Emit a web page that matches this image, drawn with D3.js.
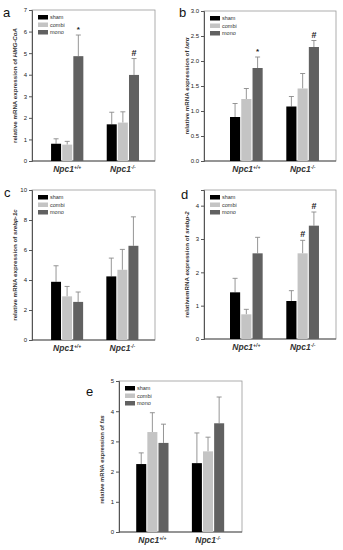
<!DOCTYPE html>
<html>
<head>
<meta charset="utf-8">
<script src="https://cdn.jsdelivr.net/npm/d3@7"></script>
<style>
  body { margin: 0; background: #fff; }
  svg { display: block; font-family: "Liberation Sans", Arial, sans-serif; }
</style>
</head>
<body>
<div id="vis-container"></div>
<script>
// ---------- data ----------
const genotypes = ["+/+", "-/-"]
const treatments = ["sham", "combi", "mono"]

// a: HMG-CoA
const hmgMean = [[0.80, 0.76, 4.86], [1.70, 1.78, 3.99]]
const hmgErr  = [[0.23, 0.15, 0.98], [0.56, 0.50, 0.76]]
const hmgMark = [["", "", "*"], ["", "", "#"]]
const hmgTicks = [0, 1, 2, 3, 4, 5, 6, 7]

// b: lxr alpha
const lxrMean = [[0.88, 1.24, 1.86], [1.09, 1.45, 2.28]]
const lxrErr  = [[0.27, 0.21, 0.22], [0.20, 0.30, 0.13]]
const lxrMark = [["", "", "*"], ["", "", "#"]]
const lxrTicks = [0, 0.5, 1.0, 1.5, 2.0, 2.5, 3.0]

// c: srebp-1c
const srebp1Mean = [[3.88, 2.91, 2.54], [4.24, 4.68, 6.28]]
const srebp1Err  = [[1.07, 0.66, 0.66], [1.22, 1.36, 1.93]]
const srebp1Mark = [["", "", ""], ["", "", ""]]
const srebp1Ticks = [0, 2, 4, 6, 8, 10]

// d: srebp-2
const srebp2Mean = [[1.40, 0.74, 2.57], [1.14, 2.57, 3.40]]
const srebp2Err  = [[0.42, 0.15, 0.48], [0.31, 0.39, 0.41]]
const srebp2Mark = [["", "", ""], ["", "#", "#"]]
const srebp2Ticks = [0, 1, 2, 3, 4]

// e: fas
const fasMean = [[2.25, 3.31, 2.95], [2.28, 2.67, 3.60]]
const fasErr  = [[0.37, 0.64, 0.62], [1.00, 0.47, 0.87]]
const fasMark = [["", "", ""], ["", "", ""]]
const fasTicks = [0, 1, 2, 3, 4, 5]

const colors = ["#000000", "#c4c4c4", "#616161"]

// ---------- panel layout ----------
const panels = [
  { letter: "a", lx: 3, ly: 17, left: 32, right: 155, top: 10, bottom: 161, yMax: 7, ticks: hmgTicks, fmt: d3.format("d"),
    mean: hmgMean, err: hmgErr, mark: hmgMark, xr: [0.155, 0.87], pre: "relative mRNA expression of ", gene: "HMG-CoA", ls: 6.2, ldy: 0 },
  { letter: "b", lx: 179, ly: 17, left: 204, right: 336, top: 11, bottom: 161, yMax: 3, ticks: lxrTicks, fmt: d3.format(".1f"),
    mean: lxrMean, err: lxrErr, mark: lxrMark, xr: [0.197, 0.871], pre: "relative mRNA expression of ", gene: "lxrα", ls: 6.2, ldy: 0 },
  { letter: "c", lx: 4, ly: 197, left: 32, right: 155, top: 190, bottom: 340, yMax: 10, ticks: srebp1Ticks, fmt: d3.format("d"),
    mean: srebp1Mean, err: srebp1Err, mark: srebp1Mark, xr: [0.155, 0.865], pre: "relative mRNA expression of ", gene: "srebp-1c", ls: 6.2, ldy: 0 },
  { letter: "d", lx: 181, ly: 199, left: 204, right: 336, top: 190, bottom: 339, yMax: 4.47, ticks: srebp2Ticks, fmt: d3.format("d"),
    mean: srebp2Mean, err: srebp2Err, mark: srebp2Mark, xr: [0.197, 0.871], pre: "relativemRNA expression of ", gene: "srebp-2", ls: 6.2, ldy: 0 },
  { letter: "e", lx: 86, ly: 396, left: 119, right: 242, top: 381, bottom: 532, yMax: 5, ticks: fasTicks, fmt: d3.format("d"),
    mean: fasMean, err: fasErr, mark: fasMark, xr: [0.14, 0.855], pre: "relative mRNA expression of ", gene: "fas", ls: 5.8, ldy: 3 }
]

const svg = d3.select("#vis-container").append("svg")
  .attr("width", 343).attr("height", 550)

panels.forEach(p => {
  const w = p.right - p.left
  const h = p.bottom - p.top
  const g = svg.append("g").attr("transform", `translate(${p.left},${p.top})`)

  const y = d3.scaleLinear().domain([0, p.yMax]).range([h, 0])
  const x0 = d3.scaleBand().domain(genotypes).range([w * p.xr[0], w * p.xr[1]]).paddingInner(0.42)
  const x1 = d3.scaleBand().domain(treatments).range([0, x0.bandwidth()]).paddingInner(0.1)

  // frame
  g.append("rect").attr("width", w).attr("height", h)
    .attr("fill", "none").attr("stroke", "#9a9a9a").attr("stroke-width", 0.8)

  // y axis
  const yAxis = d3.axisLeft(y).tickValues(p.ticks).tickFormat(p.fmt).tickSize(3).tickPadding(2)
  const ya = g.append("g").call(yAxis)
  ya.select(".domain").attr("stroke", "#555")
  ya.selectAll(".tick line").attr("stroke", "#555")
  ya.selectAll("text").attr("font-size", 6).attr("fill", "#222")

  // x axis line
  g.append("line").attr("x1", 0).attr("x2", w).attr("y1", h).attr("y2", h)
    .attr("stroke", "#555").attr("stroke-width", 1)

  // bars + error bars
  genotypes.forEach((gt, i) => {
    const gg = g.append("g").attr("transform", `translate(${x0(gt)},0)`)
    treatments.forEach((t, j) => {
      const v = p.mean[i][j]
      const top = v + p.err[i][j]
      const cx = x1(t) + x1.bandwidth() / 2
      gg.append("line").attr("x1", cx).attr("x2", cx)
        .attr("y1", y(v)).attr("y2", y(top))
        .attr("stroke", "#8a8a8a").attr("stroke-width", 0.9)
      gg.append("line").attr("x1", cx - 2.5).attr("x2", cx + 2.5)
        .attr("y1", y(top)).attr("y2", y(top))
        .attr("stroke", "#8a8a8a").attr("stroke-width", 0.9)
      gg.append("rect")
        .attr("x", x1(t)).attr("y", y(v))
        .attr("width", x1.bandwidth()).attr("height", h - y(v))
        .attr("fill", colors[j])
      if (p.mark[i][j]) {
        gg.append("text").attr("x", cx).attr("y", y(top) - 3)
          .attr("text-anchor", "middle").attr("font-size", p.mark[i][j] === "*" ? 8 : 9)
          .attr("font-weight", "bold").attr("fill", "#222")
          .text(p.mark[i][j])
      }
    })

    // genotype label
    const lab = g.append("text")
      .attr("x", x0(gt) + x0.bandwidth() / 2).attr("y", h + 11)
      .attr("text-anchor", "middle").attr("font-size", 8.5)
      .attr("font-style", "italic").attr("font-weight", "bold").attr("fill", "#333")
    lab.append("tspan").text("Npc1")
    lab.append("tspan").attr("font-size", 5).attr("dy", -3.5).text(gt)
  })

  // legend
  const lg = g.append("g").attr("transform", "translate(6,5)")
  treatments.forEach((t, j) => {
    lg.append("rect").attr("x", 0).attr("y", j * 7.5).attr("width", 10).attr("height", 4.5)
      .attr("fill", colors[j])
    lg.append("text").attr("x", 12).attr("y", j * 7.5 + 4.3)
      .attr("font-size", 5.5).attr("fill", "#333").text(t)
  })

  // y label
  const yl = g.append("text")
    .attr("transform", `translate(${-15},${h / 2 + p.ldy}) rotate(-90)`)
    .attr("text-anchor", "middle").attr("font-size", p.ls).attr("font-weight", "bold").attr("fill", "#333")
  yl.append("tspan").text(p.pre)
  yl.append("tspan").attr("font-style", "italic").text(p.gene)

  // panel letter
  svg.append("text").attr("x", p.lx).attr("y", p.ly)
    .attr("font-size", 13).attr("fill", "#111").text(p.letter)
})
</script>
</body>
</html>
